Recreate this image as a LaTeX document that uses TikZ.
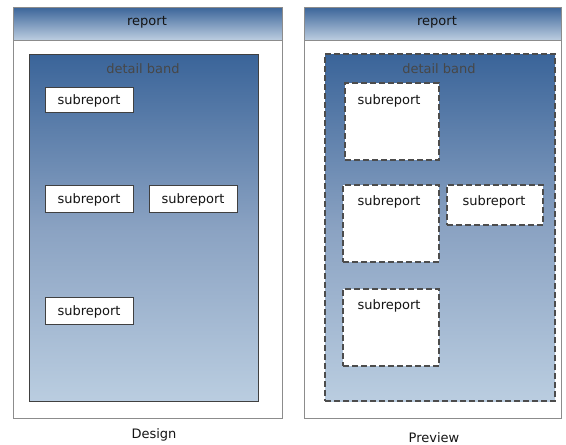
\documentclass[tikz,border=0pt]{standalone}
\usepackage{fontspec}
\setmainfont{DejaVu Sans}
\begin{document}
\begin{tikzpicture}[x=1pt,y=-1pt,
  every node/.style={inner sep=0pt, outer sep=0pt},
  frame/.style={draw=black!45, line width=1pt, fill=white, anchor=north west},
  header/.style={draw=black!45, line width=1pt, anchor=north west, top color=hdtop, bottom color=hdbot},
  band/.style={anchor=north west, top color=bdtop, bottom color=bdbot, middle color=bdmid},
  bandsolid/.style={band, draw=black!75, line width=1pt},
  banddash/.style={band, draw=black!70, line width=1.6pt, dash pattern=on 6pt off 3pt},
  sub/.style={anchor=north west, fill=white, draw=black!75, line width=1pt},
  subdash/.style={anchor=north west, fill=white, draw=black!70, line width=1.6pt, dash pattern=on 6pt off 3pt},
  lbl/.style={font=\fontsize{13}{15}\selectfont, text=black!92},
  bandlbl/.style={font=\fontsize{13}{15}\selectfont, text=black!72}
]
\definecolor{hdtop}{HTML}{3A6499}
\definecolor{hdbot}{HTML}{BCCDE0}
\definecolor{bdtop}{HTML}{3A6499}
\definecolor{bdmid}{HTML}{8AA2C2}
\definecolor{bdbot}{HTML}{BACDE0}
\useasboundingbox (0,0) rectangle (566,445);

% Design side
\node[frame, minimum width=269, minimum height=411] (Lframe) at (13,7) {};
\node[header, minimum width=269, minimum height=33] (Lhead) at (13,7) {};
\node[lbl] (Lrep) at (147,22) {report};
\node[bandsolid, minimum width=229, minimum height=347] (Lband) at (29,54) {};
\node[bandlbl] (Lbl) at (143,69) {detail band};
\node[sub, minimum width=88, minimum height=25] (L1) at (45,87) {};
\node[lbl] at ([yshift=-1.5pt]L1.center) {subreport};
\node[sub, minimum width=88, minimum height=27] (L2) at (45,185) {};
\node[lbl] at ([yshift=-1.5pt]L2.center) {subreport};
\node[sub, minimum width=88, minimum height=27] (L3) at (149,185) {};
\node[lbl] at ([yshift=-1.5pt]L3.center) {subreport};
\node[sub, minimum width=88, minimum height=27] (L4) at (45,297) {};
\node[lbl] at ([yshift=-1.5pt]L4.center) {subreport};
\node[lbl] (Ldes) at (154,435) {Design};

% Preview side
\node[frame, minimum width=257, minimum height=411] (Rframe) at (304,7) {};
\node[header, minimum width=257, minimum height=33] (Rhead) at (304,7) {};
\node[lbl] (Rrep) at (437,22) {report};
\node[banddash, minimum width=230, minimum height=347] (Rband) at (325,54) {};
\node[bandlbl] (Rbl) at (439,69) {detail band};
\node[subdash, minimum width=94, minimum height=77] (R1) at (345,83) {};
\node[lbl] at (389,101) {subreport};
\node[subdash, minimum width=96, minimum height=77] (R2) at (343,185) {};
\node[lbl] at (389,202) {subreport};
\node[subdash, minimum width=96, minimum height=40] (R3) at (447,185) {};
\node[lbl] at (494,202) {subreport};
\node[subdash, minimum width=96, minimum height=77] (R4) at (343,289) {};
\node[lbl] at (389,306) {subreport};
\node[lbl] (Rpre) at (434,438) {Preview};
\end{tikzpicture}
\end{document}
